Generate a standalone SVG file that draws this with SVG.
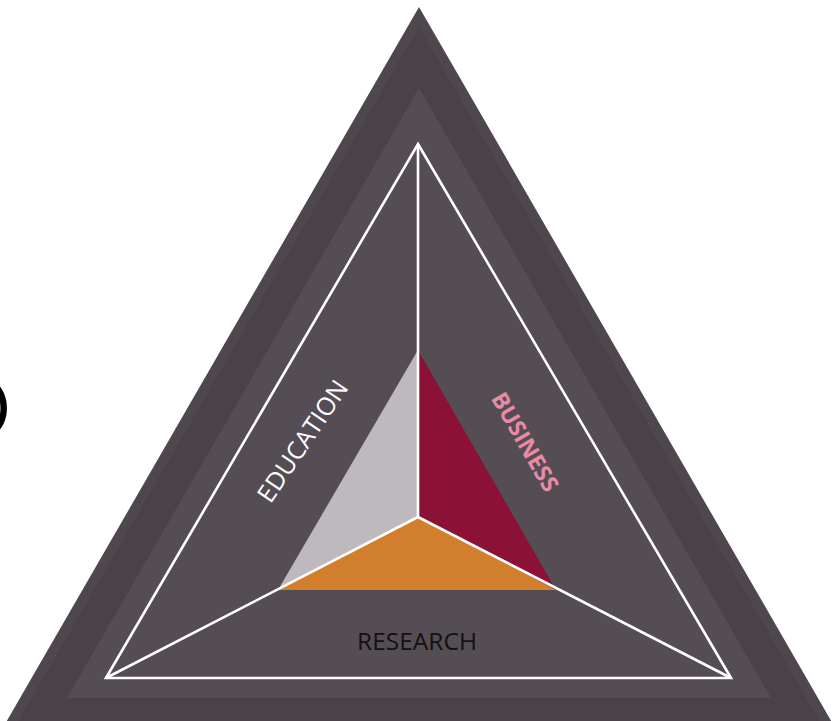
<svg xmlns="http://www.w3.org/2000/svg" width="833" height="721" viewBox="0 0 833 721">
<style>
.wl{stroke:#ffffff;stroke-width:2.6;fill:none;stroke-linejoin:miter}
.lbl{font-family:"Open Sans","Liberation Sans",sans-serif;text-anchor:middle}
</style>
<rect x="0" y="0" width="833" height="721" fill="#ffffff"/>
<g id="paren">
<text x="-8" y="422" font-family="Open Sans, Liberation Sans, sans-serif" font-size="50" font-weight="bold" fill="#000000">)</text>
</g>
<g id="frame">
<polygon points="419,7 -14,757 852,757" fill="#4f474e"/>
<polygon points="419,27 3,748 835,748" fill="#4a4248"/>
<polygon points="419,88 67,698 771,698" fill="#554d54"/>
</g>
<g id="education-sector">
<polygon points="418,350 418,517 278,590" fill="#bdb9bc"/>
</g>
<g id="business-sector">
<polygon points="418,350 556,590 418,517" fill="#8c1136"/>
</g>
<g id="research-sector">
<polygon points="278,590 418,517 556,590" fill="#d17f2c"/>
</g>
<g id="connectors">
<polygon class="wl" points="418,144 731,678 106,678"/>
<line class="wl" x1="418" y1="144" x2="418" y2="517"/>
<line class="wl" x1="418" y1="517" x2="106" y2="678"/>
<line class="wl" x1="418" y1="517" x2="731" y2="678"/>
</g>
<g id="label-education">
<text class="lbl" transform="translate(310,446) rotate(-56)" font-size="25" fill="#ffffff">EDUCATION</text>
</g>
<g id="label-business">
<text class="lbl" transform="translate(518,446) rotate(60)" font-size="23" font-weight="bold" fill="#e98aa6">BUSINESS</text>
</g>
<g id="label-research">
<text class="lbl" x="417" y="650" font-size="24.5" fill="#111111">RESEARCH</text>
</g>
</svg>
